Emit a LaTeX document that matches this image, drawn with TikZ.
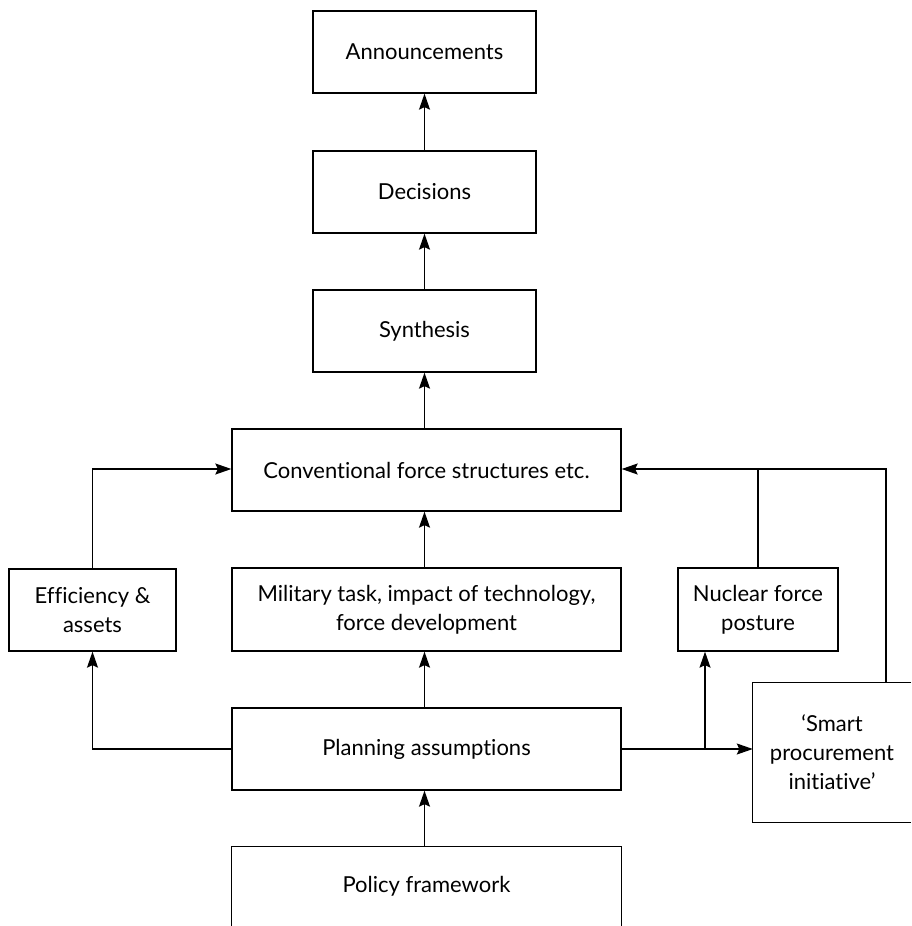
\documentclass[tikz,border=0pt]{standalone}
\usepackage{fontspec}
\setmainfont{Lato}[Ligatures=NoCommon]
\usetikzlibrary{arrows.meta}
\begin{document}
\begin{tikzpicture}[x=1pt,y=-1pt,
  every node/.style={font=\fontsize{22}{29}\selectfont, align=center, inner sep=0pt},
  box/.style={draw, line width=1.3pt, minimum width=#1, minimum height=82pt},
  arr/.style={line width=1.3pt, -{Stealth[length=16pt,width=11pt,inset=2.5pt]}},
  ln/.style={line width=1.3pt}]
\useasboundingbox (0,0) rectangle (911,926);
\node[box=223pt] (ann) at (424.5,52) {Announcements};
\node[box=223pt] (dec) at (424.5,192) {Decisions};
\node[box=223pt] (syn) at (424.5,331) {Synthesis};
\node[box=389pt] (conv) at (426.5,470) {Conventional force structures etc.};
\node[box=389pt, minimum height=83pt] (mil) at (426.5,609.5) {Military task, impact of technology,\\force development};
\node[box=167pt, minimum height=82pt] (eff) at (92.5,610) {Efficiency \&\\assets};
\node[box=160pt, minimum height=83pt] (nuc) at (758,609.5) {Nuclear force\\posture};
\node[box=389pt] (plan) at (426.5,749) {Planning assumptions};
\node[minimum width=389pt, minimum height=79pt] (pol) at (426.5,886.5) {Policy framework};
\node[minimum width=158pt, minimum height=139pt] (smart) at (832,752.5) {‘Smart\\procurement\\initiative’};
% open boxes
\draw[ln] (pol.south west) -- (pol.north west) -- (pol.north east) -- (pol.south east);
\draw[ln] (smart.north east) -- (smart.north west) -- (smart.south west) -- (smart.south east);
% coordinates
\coordinate (jr) at (705,749);
\coordinate (top) at (886,469);
% vertical arrows
\draw[arr] (dec.north) -- (ann.south);
\draw[arr] (syn.north) -- (dec.south);
\draw[arr] (conv.north -| syn.south) -- (syn.south);
\draw[arr] (mil.north -| syn.south) -- (conv.south -| syn.south);
\draw[arr] (plan.north -| syn.south) -- (mil.south -| syn.south);
\draw[arr] (pol.north -| syn.south) -- (plan.south -| syn.south);
% left loop
\draw[arr] (eff.north) |- (conv.west |- top);
\draw[arr] (plan.west) -| (eff.south);
% right side
\draw[arr] (plan.east) -- (smart.west |- plan.east);
\draw[arr] (jr) -- (jr |- nuc.south);
\draw[arr] (smart.north -| top) -- (top) -- (conv.east |- top);
\draw[ln] (nuc.north) -- (nuc.north |- top);
\end{tikzpicture}
\end{document}
